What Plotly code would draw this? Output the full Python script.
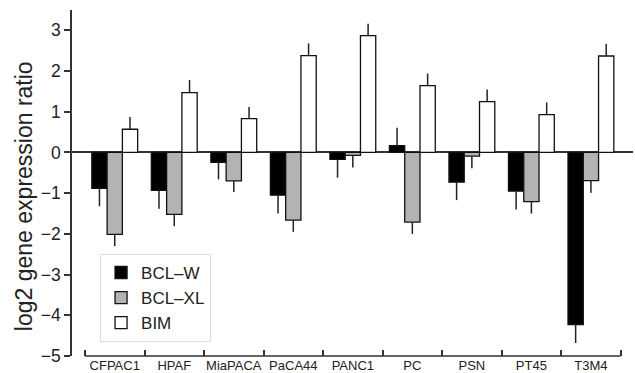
import plotly.graph_objects as go

categories = ["CFPAC1", "HPAF", "MiaPACA", "PaCA44", "PANC1", "PC", "PSN", "PT45", "T3M4"]
bclw = [-0.88, -0.93, -0.24, -1.05, -0.17, 0.17, -0.73, -0.95, -4.23]
bclw_err = [0.44, 0.45, 0.42, 0.45, 0.45, 0.44, 0.44, 0.45, 0.45]
bclxl = [-2.01, -1.52, -0.70, -1.66, -0.07, -1.71, -0.09, -1.21, -0.69]
bclxl_err = [0.29, 0.29, 0.27, 0.29, 0.30, 0.29, 0.30, 0.29, 0.30]
bim = [0.57, 1.47, 0.83, 2.38, 2.87, 1.64, 1.25, 0.93, 2.37]
bim_err = [0.30, 0.31, 0.29, 0.30, 0.29, 0.30, 0.30, 0.30, 0.30]
y_ticks = [-5, -4, -3, -2, -1, 0, 1, 2, 3]
y_title = "log2 gene expression ratio"

series = [
    ("BCL–W", bclw, bclw_err, "#000000"),
    ("BCL–XL", bclxl, bclxl_err, "#b3b3b3"),
    ("BIM", bim, bim_err, "#ffffff"),
]

FONT = "Liberation Sans, Arial, sans-serif"
INK = "#222222"

fig = go.Figure()
for name, vals, errs, color in series:
    up = [e if v > 0 else 0 for v, e in zip(vals, errs)]
    down = [e if v < 0 else 0 for v, e in zip(vals, errs)]
    fig.add_trace(go.Bar(
        x=categories, y=vals, name=name,
        marker=dict(color=color, line=dict(color="#111111", width=1.3)),
        error_y=dict(type="data", symmetric=False, array=up, arrayminus=down,
                     color=INK, thickness=1.5, width=0),
    ))

n = len(categories)
fig.add_shape(type="line", xref="x", yref="paper", x0=-0.5, x1=n - 0.5, y0=0, y1=0,
              line=dict(color="#333333", width=1.5))

fig.add_annotation(text=y_title, xref="paper", yref="paper", x=-0.0856, y=0.462,
                   xanchor="center", yanchor="middle", textangle=-90, showarrow=False,
                   font=dict(size=23, family=FONT, color=INK))

fig.update_layout(
    template="none",
    width=635, height=373,
    margin=dict(l=72, r=2, t=10, b=17, pad=0),
    paper_bgcolor="white", plot_bgcolor="white",
    font=dict(family=FONT, color=INK),
    barmode="group", bargap=0.23, bargroupgap=0,
    showlegend=True,
    legend=dict(x=0.05, y=0.295, xanchor="left", yanchor="top",
                bordercolor="#dddddd", borderwidth=1, bgcolor="white",
                font=dict(size=17, family=FONT, color=INK),
                tracegroupgap=0),
    xaxis=dict(range=[-0.718, n - 0.5 + 0.207], showline=False, showgrid=False,
               zeroline=False, automargin=False, tickangle=0,
               ticks="inside", ticklen=6, tickwidth=1.5, tickcolor="#333333",
               tickson="boundaries",
               tickfont=dict(size=13, family=FONT, color=INK),
               fixedrange=True),
    yaxis=dict(range=[-5, 3.5], tickvals=y_ticks, showline=True, linecolor="#333333",
               linewidth=1.5, ticks="outside", ticklen=6, tickwidth=1.5,
               tickcolor="#333333", showgrid=False, automargin=False,
               zeroline=True, zerolinecolor="#333333", zerolinewidth=1.5,
               tickfont=dict(size=17.5, family=FONT, color=INK)),
)

fig.write_html("out.html", config={"displayModeBar": False},
               post_script="document.body.style.margin='0';")
